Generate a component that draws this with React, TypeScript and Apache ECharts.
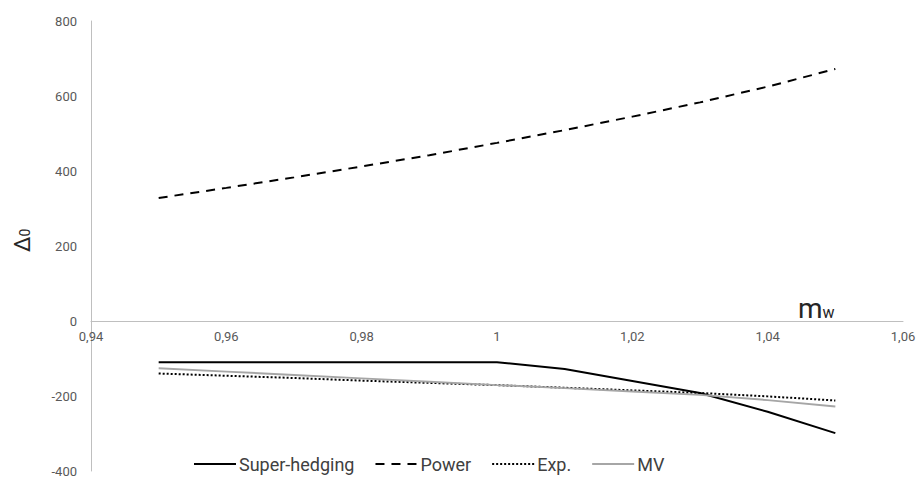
import React, { useEffect, useRef } from "react";
import * as echarts from "echarts";

const xValues = [0.95, 0.96, 0.97, 0.98, 0.99, 1.0, 1.01, 1.02, 1.03, 1.04, 1.05];
const superHedging = [-110, -110, -110, -110, -110, -110, -128, -160, -192, -242, -299];
const power = [328, 355, 383, 412, 442, 475, 509, 545, 583, 625, 672];
const expUtil = [-140, -146, -152, -159, -165, -171, -178, -185, -192, -201, -212];
const mv = [-126, -135, -144, -153, -162, -171, -179, -188, -197, -211, -228];

const seriesNames = ["Super-hedging", "Power", "Exp.", "MV"];

const FONT = "Roboto, 'Noto Sans', sans-serif";

export default function App() {
  const ref = useRef<HTMLDivElement>(null);
  useEffect(() => {
    if (!ref.current) return;
    const chart = echarts.init(ref.current, undefined, { renderer: "svg" });
    const pair = (ys: number[]) => xValues.map((x, i) => [x, ys[i]]);
    const fmtX = (v: number) => String(parseFloat(v.toFixed(2))).replace(".", ",");
    chart.setOption({
      animation: false,
      textStyle: { fontFamily: FONT },
      grid: { left: 91, right: 20, top: 21, bottom: 10, containLabel: false },
      legend: {
        top: 455,
        left: 193,
        padding: 0,
        itemWidth: 42,
        itemHeight: 12,
        itemGap: 20,
        itemStyle: { opacity: 0 },
        textStyle: { fontSize: 18, color: "#404040", fontFamily: FONT, padding: [0, 0, 0, -2] },
        data: seriesNames,
      },
      xAxis: {
        type: "value",
        min: 0.94,
        max: 1.06,
        interval: 0.02,
        offset: -150,
        axisLine: { show: true, onZero: false, lineStyle: { color: "#bfbfbf", width: 1 } },
        axisTick: { show: false },
        splitLine: { show: false },
        axisLabel: { color: "#595959", fontSize: 13, margin: 9, formatter: fmtX },
      },
      yAxis: {
        type: "value",
        min: -400,
        max: 800,
        interval: 200,
        axisLine: { show: true, lineStyle: { color: "#bfbfbf", width: 1 } },
        axisTick: { show: false },
        splitLine: { show: false },
        axisLabel: { color: "#595959", fontSize: 13, margin: 14 },
      },
      graphic: [
        {
          type: "text",
          x: 798,
          y: 294,
          style: {
            text: "{m|m}{w|w}",
            rich: {
              m: { fontSize: 28, fill: "#262626", fontFamily: FONT },
              w: { fontSize: 16, fill: "#262626", fontFamily: FONT, padding: [8, 0, 0, 0] },
            },
          },
        },
        {
          type: "text",
          x: 11,
          y: 252,
          rotation: Math.PI / 2,
          style: {
            text: "{d|Δ}{z|0}",
            rich: {
              d: { fontSize: 22, fill: "#262626", fontFamily: FONT },
              z: { fontSize: 14, fill: "#262626", fontFamily: FONT, padding: [6, 0, 0, 0] },
            },
          },
        },
      ],
      series: [
        {
          name: "Super-hedging",
          type: "line",
          data: pair(superHedging),
          symbol: "none",
          lineStyle: { color: "#000000", width: 2 },
          itemStyle: { color: "#000000" },
        },
        {
          name: "Power",
          type: "line",
          data: pair(power),
          symbol: "none",
          lineStyle: { color: "#000000", width: 2, type: [9, 7] },
          itemStyle: { color: "#000000" },
        },
        {
          name: "Exp.",
          type: "line",
          data: pair(expUtil),
          symbol: "none",
          lineStyle: { color: "#000000", width: 2, type: [2, 2] },
          itemStyle: { color: "#000000" },
        },
        {
          name: "MV",
          type: "line",
          data: pair(mv),
          symbol: "none",
          lineStyle: { color: "#a6a6a6", width: 2 },
          itemStyle: { color: "#a6a6a6" },
        },
      ],
    });
    return () => chart.dispose();
  }, []);
  return (
    <div
      ref={ref}
      style={{ position: "absolute", left: 0, top: 0, width: 923, height: 481, overflow: "hidden" }}
    />
  );
}
